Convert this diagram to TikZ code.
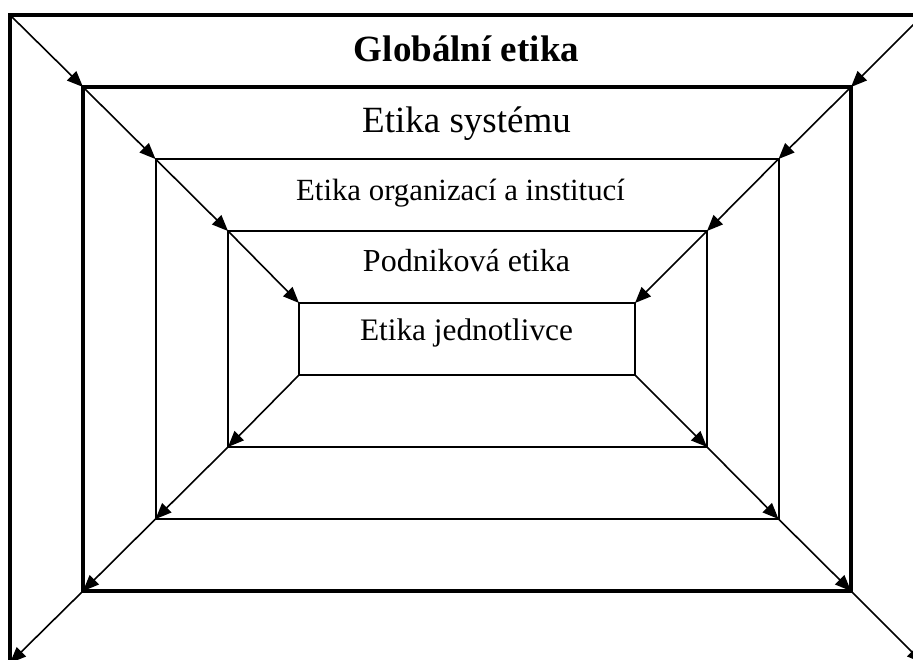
\documentclass[tikz,border=0pt]{standalone}
\usepackage{fontspec}
\setmainfont{Liberation Serif}
\usetikzlibrary{arrows.meta}
\begin{document}
\begin{tikzpicture}[x=1pt,y=-1pt,
  frame/.style={draw, inner sep=0pt, outer sep=0pt},
  link/.style={line width=1.6pt, -{Triangle[length=16pt,width=13pt]}},
  label/.style={anchor=base, inner sep=0pt}]
  \useasboundingbox (0,0) rectangle (913,659);
  \clip (0,0) rectangle (913,659);
  % nested frames, outermost first
  \node[frame, line width=3.2pt, minimum width=913pt, minimum height=648pt] (r0) at (466.5,339) {};
  \node[frame, line width=3.2pt, minimum width=768pt, minimum height=504pt] (r1) at (467,339) {};
  \node[frame, line width=2pt, minimum width=623pt, minimum height=360pt] (r2) at (467,339) {};
  \node[frame, line width=1.7pt, minimum width=479pt, minimum height=216pt] (r3) at (467.5,339) {};
  \node[frame, line width=1.7pt, minimum width=336pt, minimum height=72pt] (r4) at (467,339) {};
  % arrows toward the centre along the upper corners
  \foreach \a/\b in {r0/r1,r1/r2,r2/r3,r3/r4}{
    \draw[link] (\a.north west) -- (\b.north west);
    \draw[link] (\a.north east) -- (\b.north east);
  }
  % arrows away from the centre along the lower corners
  \foreach \a/\b in {r4/r3,r3/r2,r2/r1,r1/r0}{
    \draw[link] (\a.south west) -- (\b.south west);
    \draw[link] (\a.south east) -- (\b.south east);
  }
  % level labels
  \node[label, font=\fontsize{37}{40}\selectfont\bfseries] (t0) at (466.5,61) {Globální etika};
  \node[label, font=\fontsize{37}{40}\selectfont] (t1) at (466.5,132) {Etika systému};
  \node[label, font=\fontsize{30.8}{34}\selectfont] (t2) at (460.5,200) {Etika organizací a institucí};
  \node[label, font=\fontsize{32}{35}\selectfont] (t3) at (466.5,271) {Podniková etika};
  \node[label, font=\fontsize{31.3}{35}\selectfont] (t4) at (466.5,340) {Etika jednotlivce};
\end{tikzpicture}
\end{document}
